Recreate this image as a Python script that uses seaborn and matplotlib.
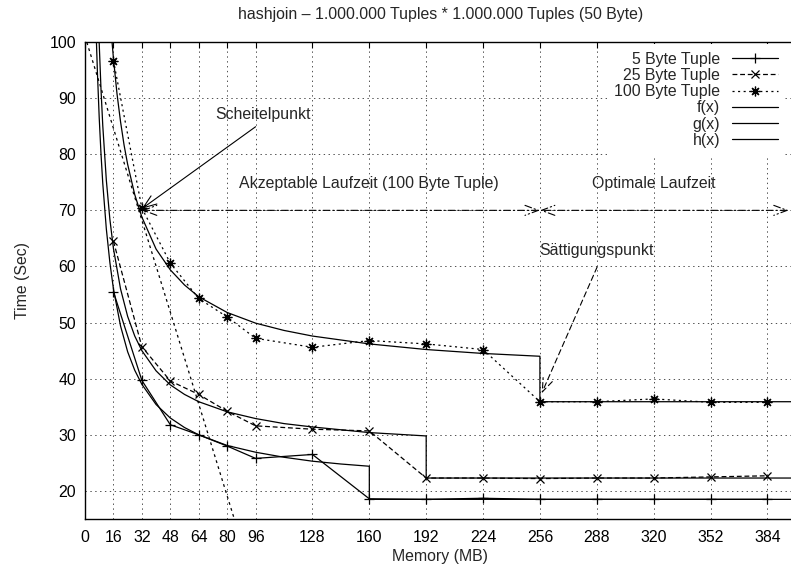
import matplotlib
matplotlib.use("Agg")
import matplotlib.pyplot as plt
import seaborn as sns

# measured points: memory (MB) vs. time (sec)
memory_mb = [16, 32, 48, 64, 80, 96, 128, 160, 192, 224, 256, 288, 320, 352, 384]
time_5_byte = [55.5, 39.7, 31.8, 30.0, 28.0, 25.8, 26.5, 18.6, 18.5, 18.7, 18.5, 18.5, 18.5, 18.5, 18.5]
time_25_byte = [64.5, 45.7, 39.6, 37.2, 34.2, 31.6, 31.0, 30.7, 22.3, 22.3, 22.2, 22.3, 22.3, 22.5, 22.7]
time_100_byte = [96.7, 70.4, 60.6, 54.3, 51.0, 47.2, 45.6, 46.8, 46.2, 45.2, 35.9, 35.9, 36.4, 35.8, 35.8]

# fitted curves f, g, h (including the drop at the saturation point)
f_x = [6.2, 7, 8, 9, 10, 12, 14, 16, 20, 24, 28, 32, 40, 48, 56, 64, 80, 96, 112, 128, 144, 160, 160, 420]
f_y = [102.3, 94.5, 86.5, 80.1, 74.8, 66.7, 60.7, 56.0, 49.4, 44.8, 41.5, 39.0, 35.4, 33.0, 31.3, 30.0,
       28.1, 26.9, 26.0, 25.3, 24.8, 24.4, 18.5, 18.5]
g_x = [7.8, 8, 9, 10, 12, 14, 16, 20, 24, 28, 32, 40, 48, 56, 64, 80, 96, 112, 128, 144, 160, 176, 192, 192, 420]
g_y = [101.5, 99.7, 91.6, 85.1, 75.4, 68.4, 63.2, 56.0, 51.1, 47.6, 45.0, 41.4, 38.9, 37.2, 35.9, 34.1,
       32.9, 32.0, 31.4, 30.9, 30.4, 30.1, 29.8, 22.3, 22.3]
h_x = [15, 16, 18, 20, 22, 24, 28, 32, 40, 48, 56, 64, 80, 96, 112, 128, 160, 192, 224, 256, 256, 420]
h_y = [100.8, 97.1, 90.8, 85.8, 81.6, 78.2, 72.8, 68.8, 63.1, 59.4, 56.7, 54.6, 51.8, 49.9, 48.6, 47.6,
       46.2, 45.2, 44.5, 44.0, 35.9, 35.9]

# straight line through the vertex
tangent_x = [0, 85]
tangent_y = [101, 14]

x_ticks = [0, 16, 32, 48, 64, 80, 96, 128, 160, 192, 224, 256, 288, 320, 352, 384]
y_ticks = [20, 30, 40, 50, 60, 70, 80, 90, 100]

FS = 11.4

sns.set_theme(style="white")
plt.rcParams['font.family'] = ['Liberation Sans', 'DejaVu Sans']
plt.rcParams['lines.scale_dashes'] = False

fig = plt.figure(figsize=(7.91, 5.70), dpi=100)
ax = fig.add_axes([85 / 791, 51 / 570, 710.8 / 791, 477 / 570])

common = dict(ax=ax, color='black', estimator=None, sort=False)

# data series
sns.lineplot(x=memory_mb, y=time_5_byte, lw=0.9, marker='+', markersize=7, markeredgewidth=0.9,
             markeredgecolor='black', label='5 Byte Tuple', **common)
sns.lineplot(x=memory_mb, y=time_25_byte, lw=0.9, linestyle=(0, (3.5, 2)), marker='x', markersize=6,
             markeredgewidth=0.9, markeredgecolor='black', label='25 Byte Tuple', **common)
sns.lineplot(x=memory_mb, y=time_100_byte, lw=0.9, linestyle=(0, (1.5, 2.5)), marker=(8, 2, 0),
             markersize=7, markeredgewidth=0.9, markeredgecolor='black', label='100 Byte Tuple', **common)

# fitted functions
sns.lineplot(x=f_x, y=f_y, lw=0.9, label='f(x)', **common)
sns.lineplot(x=g_x, y=g_y, lw=0.9, label='g(x)', **common)
sns.lineplot(x=h_x, y=h_y, lw=0.9, label='h(x)', **common)

sns.lineplot(x=tangent_x, y=tangent_y, lw=0.9, linestyle=(0, (2, 2.5)), **common)

# annotations
head = 'head_length=0.8,head_width=0.3'
ax.annotate('', xy=(32, 70.3), xytext=(96, 84.9),
            arrowprops=dict(arrowstyle='->,' + head, color='black', lw=0.8, shrinkA=0, shrinkB=0))
ax.text(100, 87.0, 'Scheitelpunkt', ha='center', va='center', fontsize=FS)

dashdot = (0, (5, 2, 1, 2))
ax.annotate('', xy=(32, 70), xytext=(256, 70),
            arrowprops=dict(arrowstyle='<->,' + head, color='black', lw=0.8, linestyle=dashdot,
                            shrinkA=0, shrinkB=0))
ax.annotate('', xy=(256, 70), xytext=(396, 70),
            arrowprops=dict(arrowstyle='<->,' + head, color='black', lw=0.8, linestyle=dashdot,
                            shrinkA=0, shrinkB=0))
ax.text(160, 74.8, 'Akzeptable Laufzeit (100 Byte Tuple)', ha='center', va='center', fontsize=FS)
ax.text(320, 74.8, 'Optimale Laufzeit', ha='center', va='center', fontsize=FS)

ax.annotate('', xy=(257, 37.4), xytext=(288.2, 59.9),
            arrowprops=dict(arrowstyle='->,' + head, color='black', lw=0.8, linestyle=(0, (4, 2.5)),
                            shrinkA=0, shrinkB=0))
ax.text(288, 62.9, 'Sättigungspunkt', ha='center', va='center', fontsize=FS)

# axes
ax.set_xlim(0, 400)
ax.set_ylim(15, 100)
ax.set_xticks(x_ticks)
ax.set_yticks(y_ticks)
ax.set_axisbelow(True)
ax.grid(True, color='#333333', linestyle=(0, (1, 2.5)), lw=0.6)
ax.tick_params(direction='in', length=4.5, width=0.8, top=True, right=False, labelsize=FS,
               colors='black')
ax.tick_params(axis='x', pad=8)
ax.tick_params(axis='y', pad=6.5)
for side in ['left', 'bottom', 'top']:
    ax.spines[side].set_color('black')
    ax.spines[side].set_linewidth(1.0)

ax.set_title('hashjoin – 1.000.000 Tuples * 1.000.000 Tuples (50 Byte)', fontsize=FS, pad=16.5)
ax.set_xlabel('Memory (MB)', fontsize=FS, labelpad=3)
ax.set_ylabel('Time (Sec)', fontsize=FS, labelpad=14)

handles, labels = ax.get_legend_handles_labels()
leg = ax.legend(handles, labels, loc='upper right', bbox_to_anchor=(0.985, 0.995), markerfirst=False,
                frameon=True, fontsize=FS, handlelength=2.9, handletextpad=0.75, labelspacing=0.08,
                borderpad=0.45, borderaxespad=0.0, fancybox=False)
leg.get_frame().set_facecolor('white')
leg.get_frame().set_edgecolor('none')
leg.get_frame().set_alpha(1.0)

fig.savefig('out.png', dpi=100)
